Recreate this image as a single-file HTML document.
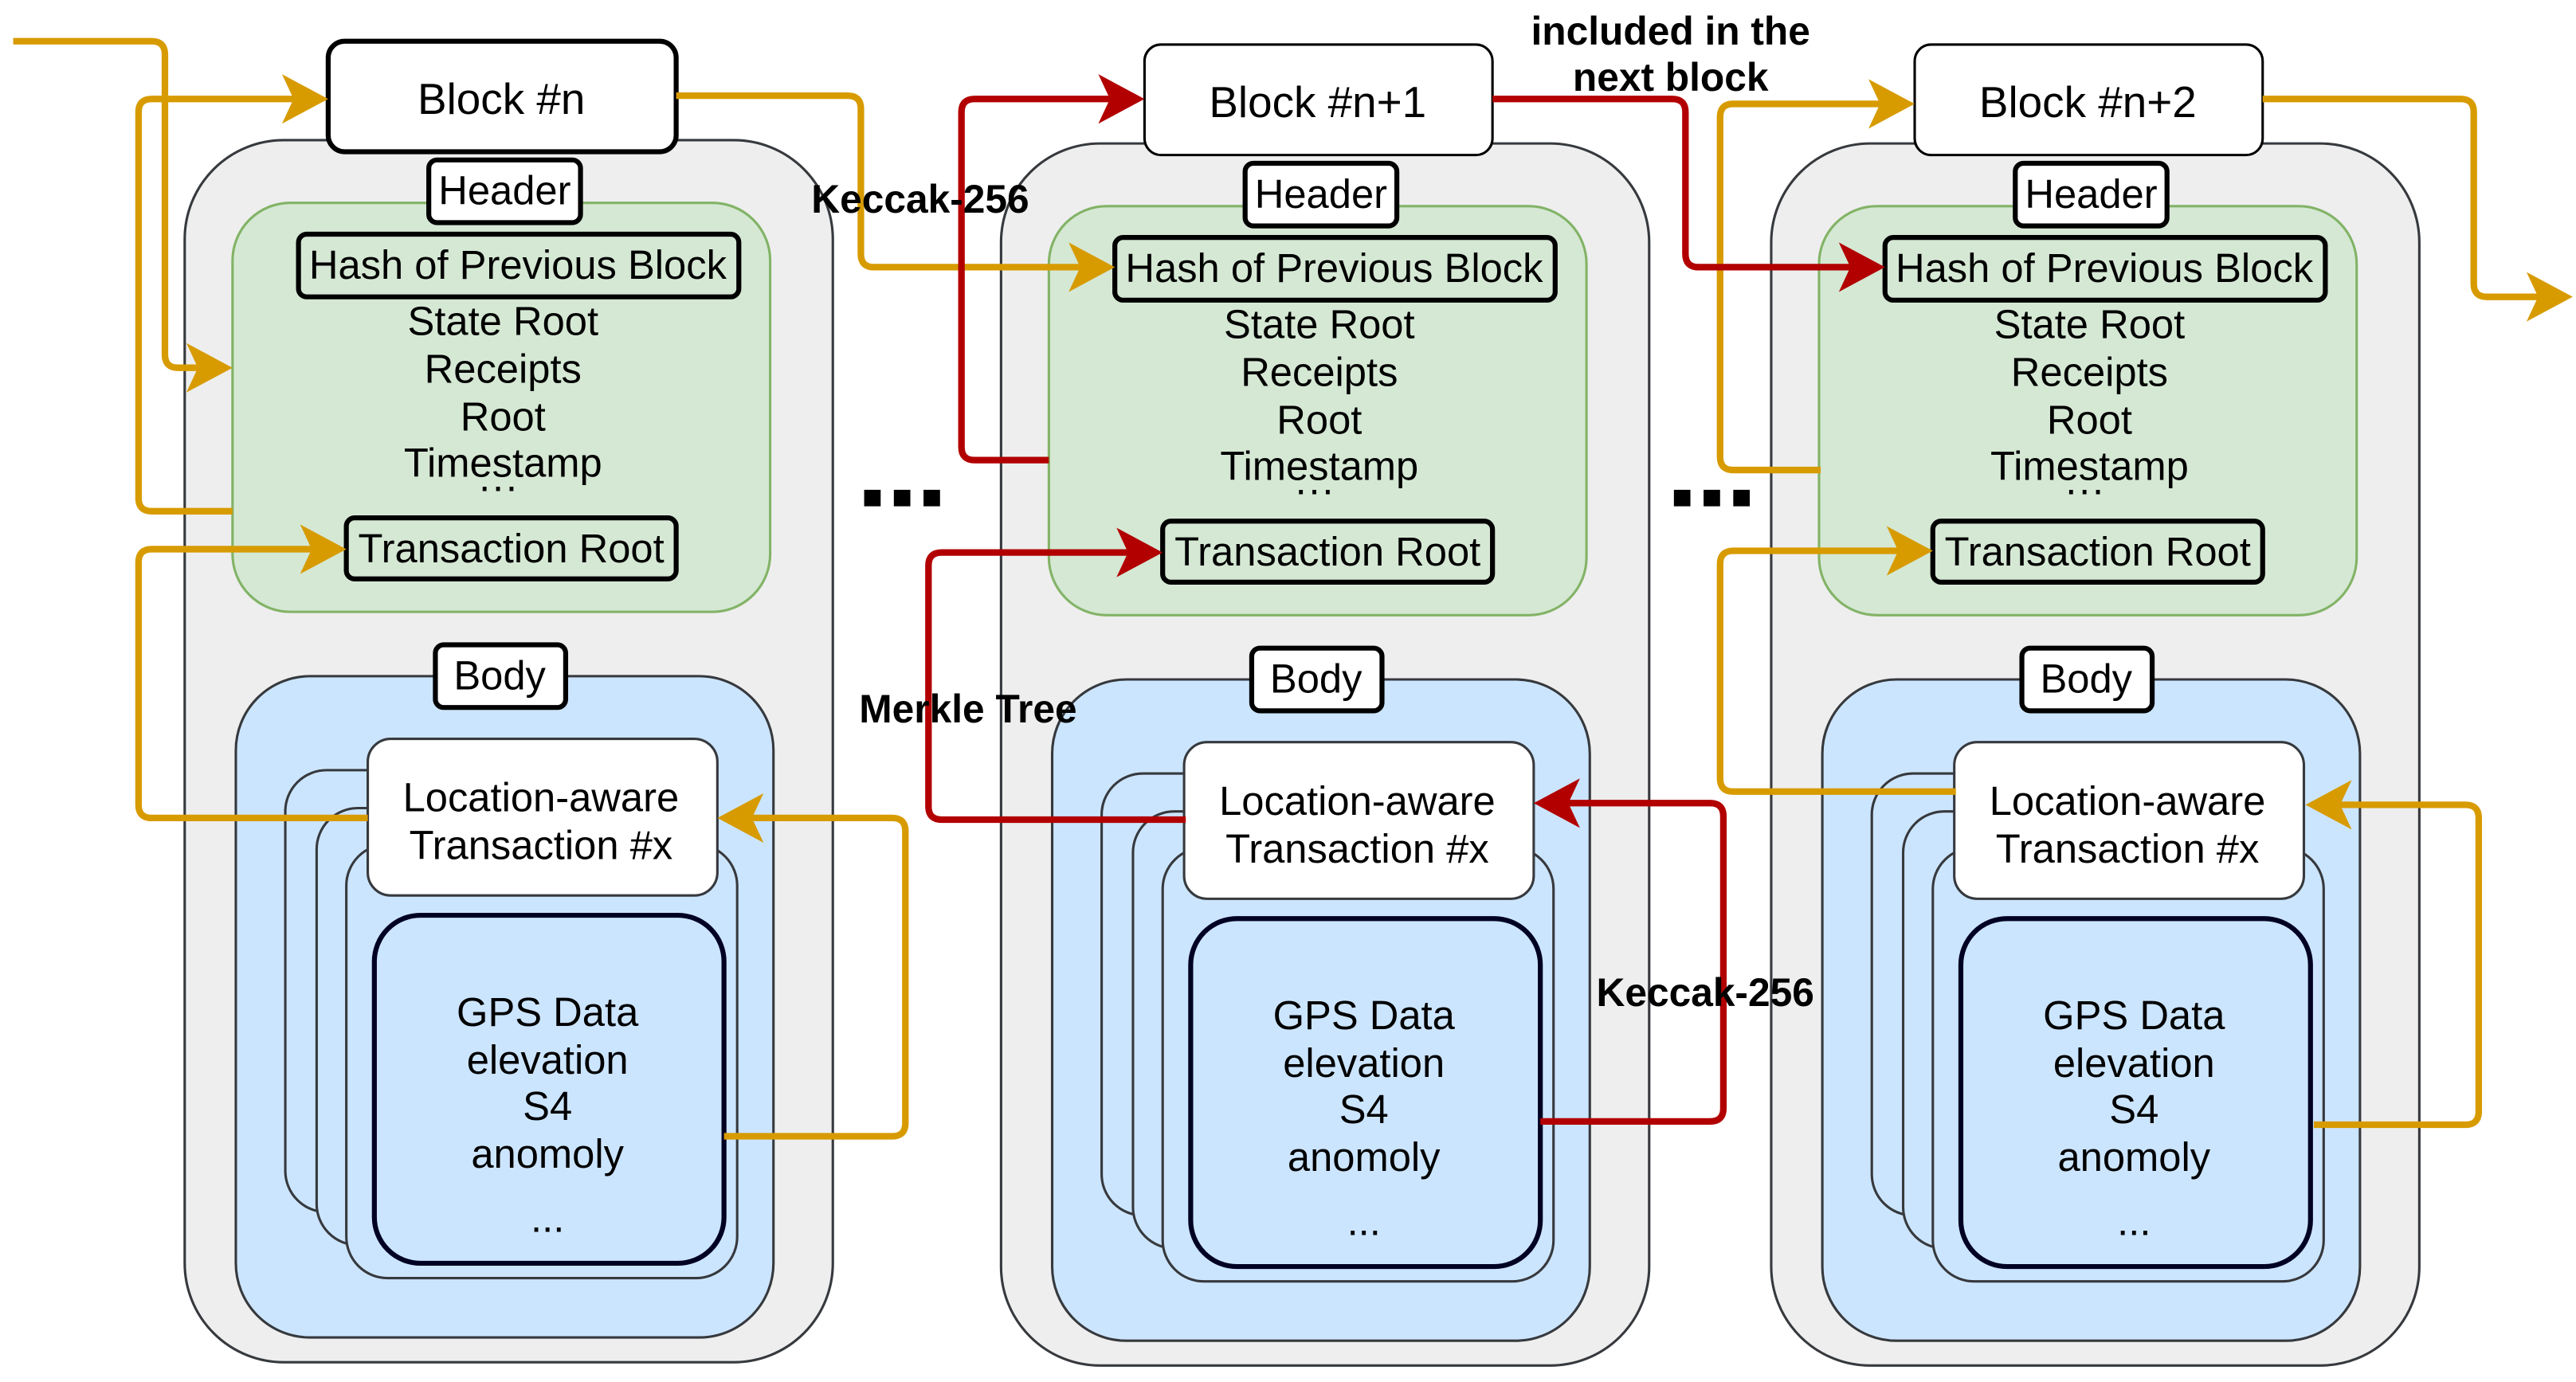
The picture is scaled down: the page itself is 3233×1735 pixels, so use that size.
<!DOCTYPE html>
<html><head><meta charset="utf-8"><style>html,body{margin:0;padding:0;background:#fff}svg{display:block}</style></head>
<body>
<svg width="3233" height="1735" viewBox="0 0 1562 838" preserveAspectRatio="none" xmlns="http://www.w3.org/2000/svg" font-family="'Liberation Sans', Arial, sans-serif">
<defs>
<g id="col">
  <rect x="112" y="85" width="393" height="741" rx="60" fill="#eeeeee" stroke="#36393d" stroke-width="1.5"/>
  <rect x="141" y="123" width="326" height="248" rx="35" fill="#d5e8d4" stroke="#82b366" stroke-width="1.5"/>
  <rect x="181" y="142" width="267" height="38" rx="5" fill="none" stroke="#000" stroke-width="3"/>
  <text x="314" y="169" font-size="24.5" text-anchor="middle">Hash of Previous Block</text>
  <g font-size="24.5" text-anchor="middle">
    <text x="305" y="203">State Root</text>
    <text x="305" y="232">Receipts</text>
    <text x="305" y="261">Root</text>
    <text x="305" y="289">Timestamp</text>
    <text x="302" y="303">···</text>
  </g>
  <rect x="210" y="314" width="200" height="37" rx="5" fill="none" stroke="#000" stroke-width="3"/>
  <text x="310" y="341" font-size="24.5" text-anchor="middle">Transaction Root</text>
  <rect x="260" y="97" width="92" height="38" rx="5" fill="#fff" stroke="#000" stroke-width="3"/>
  <text x="306" y="124" font-size="24.5" text-anchor="middle">Header</text>
  <rect x="143" y="410" width="326" height="401" rx="45" fill="#cce5ff" stroke="#36393d" stroke-width="1.5"/>
  <rect x="173" y="467" width="237" height="268" rx="25" fill="#cce5ff" stroke="#36393d" stroke-width="1.5"/>
  <rect x="192" y="490" width="237" height="265" rx="25" fill="#cce5ff" stroke="#36393d" stroke-width="1.5"/>
  <rect x="210" y="512" width="237" height="263" rx="25" fill="#cce5ff" stroke="#36393d" stroke-width="1.5"/>
  <rect x="223" y="448" width="212" height="95" rx="14" fill="#fff" stroke="#36393d" stroke-width="1.5"/>
  <text x="328" y="492" font-size="24.5" text-anchor="middle">Location-aware</text>
  <text x="328" y="521" font-size="24.5" text-anchor="middle">Transaction #x</text>
  <rect x="227" y="555" width="212" height="211" rx="28" fill="#cce5ff" stroke="#000022" stroke-width="3"/>
  <g font-size="24.5" text-anchor="middle">
    <text x="332" y="622">GPS Data</text>
    <text x="332" y="651">elevation</text>
    <text x="332" y="679">S4</text>
    <text x="332" y="708">anomoly</text>
    <text x="332" y="747">...</text>
  </g>
  <rect x="264" y="391" width="79" height="38" rx="5" fill="#fff" stroke="#000" stroke-width="3"/>
  <text x="303" y="418" font-size="24.5" text-anchor="middle">Body</text>
</g>
</defs>
<use href="#col"/>
<use href="#col" transform="translate(495,2)"/>
<use href="#col" transform="translate(962,2)"/>
<rect x="199" y="25" width="211" height="67" rx="10" fill="#fff" stroke="#000" stroke-width="3"/>
<text x="304" y="69" font-size="26.5" text-anchor="middle">Block #n</text>
<rect x="694" y="27" width="211" height="67" rx="10" fill="#fff" stroke="#000" stroke-width="1.5"/>
<text x="799" y="71" font-size="26.5" text-anchor="middle">Block #n+1</text>
<rect x="1161" y="27" width="211" height="67" rx="10" fill="#fff" stroke="#000" stroke-width="1.5"/>
<text x="1266" y="71" font-size="26.5" text-anchor="middle">Block #n+2</text>
<g fill="none" stroke-width="4" stroke-linejoin="round">
  <g stroke="#d79b00">
    <path d="M8,25 H92 Q100,25 100,33 V215 Q100,223 108,223 H128"/>
    <path d="M141,310 H92 Q84,310 84,302 V68 Q84,60 92,60 H186"/>
    <path d="M223,496 H92 Q84,496 84,488 V341 Q84,333 92,333 H197"/>
    <path d="M439,689 H541 Q549,689 549,681 V504 Q549,496 541,496 H448"/>
    <path d="M410,58 H514 Q522,58 522,66 V154 Q522,162 530,162 H663"/>
    <path d="M1104,285 H1051 Q1043,285 1043,277 V71 Q1043,63 1051,63 H1148"/>
    <path d="M1186,480 H1051 Q1043,480 1043,472 V342 Q1043,334 1051,334 H1159"/>
    <path d="M1403,682 H1495 Q1503,682 1503,674 V496 Q1503,488 1495,488 H1411"/>
    <path d="M1372,60 H1492 Q1500,60 1500,68 V172 Q1500,180 1508,180 H1545"/>
  </g>
  <g stroke="#b20000">
    <path d="M636,279 H591 Q583,279 583,271 V68 Q583,60 591,60 H681"/>
    <path d="M719,497 H571 Q563,497 563,489 V343 Q563,335 571,335 H692"/>
    <path d="M934,680 H1037 Q1045,680 1045,672 V495 Q1045,487 1037,487 H943"/>
    <path d="M905,60 H1014 Q1022,60 1022,68 V154 Q1022,162 1030,162 H1130"/>
  </g>
</g>
<g fill="#d79b00">
  <path d="M141,223 L113,208 L120,223 L113,238 Z"/>
  <path d="M199,60 L171,45 L178,60 L171,75 Z"/>
  <path d="M210,333 L182,318 L189,333 L182,348 Z"/>
  <path d="M435,496 L463,481 L456,496 L463,511 Z"/>
  <path d="M676,162 L648,147 L655,162 L648,177 Z"/>
  <path d="M1161,63 L1133,48 L1140,63 L1133,78 Z"/>
  <path d="M1172,334 L1144,319 L1151,334 L1144,349 Z"/>
  <path d="M1398,488 L1426,473 L1419,488 L1426,503 Z"/>
  <path d="M1560,180 L1532,165 L1539,180 L1532,195 Z"/>
</g>
<g fill="#b20000">
  <path d="M694,60 L666,45 L673,60 L666,75 Z"/>
  <path d="M705,335 L677,320 L684,335 L677,350 Z"/>
  <path d="M930,487 L958,472 L951,487 L958,502 Z"/>
  <path d="M1143,162 L1115,147 L1122,162 L1115,177 Z"/>
</g>
<g font-weight="bold" font-size="24" text-anchor="middle" fill="#000">
  <text x="558" y="129">Keccak-256</text>
  <text x="1013" y="27">included in the</text>
  <text x="1013" y="55">next block</text>
  <text x="587" y="438">Merkle Tree</text>
  <text x="1034" y="610">Keccak-256</text>
</g>
<g fill="#000">
  <rect x="524" y="297" width="10" height="10"/><rect x="542" y="297" width="10" height="10"/><rect x="560" y="297" width="10" height="10"/>
  <rect x="1015" y="297" width="10" height="10"/><rect x="1033" y="297" width="10" height="10"/><rect x="1051" y="297" width="10" height="10"/>
</g>
</svg>
</body></html>
